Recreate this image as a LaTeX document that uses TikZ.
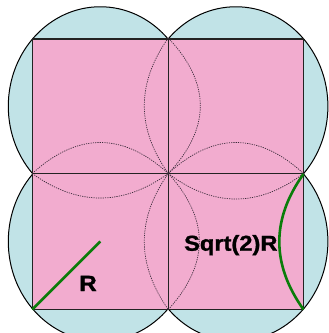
\documentclass[tikz,border=0pt]{standalone}
\usepackage{fontspec}
\setmainfont{Liberation Sans}
\newfontfamily\lblfont{Liberation Sans Bold}[FakeBold=1.3]
\definecolor{cpink}{RGB}{242,172,207}
\definecolor{cblue}{RGB}{193,227,231}
\definecolor{cedge}{RGB}{35,35,35}
\definecolor{cdot}{RGB}{60,45,60}
\definecolor{cgreen}{RGB}{10,125,10}
\begin{document}
\begin{tikzpicture}[x=1pt,y=-1pt,
  disc/.style={fill=cblue,draw=black,line width=1pt},
  sq/.style={fill=cpink,draw=cedge,line width=1.4pt},
  hid/.style={draw=cdot,line width=0.7pt,dash pattern=on 1.2pt off 1.1pt},
  grn/.style={draw=cgreen,line width=2.6pt},
  lbl/.style={font=\lblfont\fontsize{22}{22}\selectfont,xscale=1.1,inner sep=0pt,anchor=base}]
\useasboundingbox (0,0) rectangle (329,333);
\clip (0,0) rectangle (329,333);
% circumscribed circles
\foreach \cx/\cy in {100.3/106.25, 235.9/106.25, 100.3/241.5, 235.9/241.5}
  \path[disc] (\cx,\cy) ellipse [x radius=92, y radius=99.5];
% squares
\path[sq] (32.3,39) rectangle (168.3,173.5);
\path[sq] (168.3,39) rectangle (303.5,173.5);
\path[sq] (32.3,173.5) rectangle (168.3,309.5);
\path[sq] (168.3,173.5) rectangle (303.5,309.5);
% corner coordinates
\coordinate (tm) at (168.3,38);
\coordinate (cc) at (168.3,173.5);
\coordinate (lm) at (32.3,173.5);
\coordinate (rm) at (303.5,173.5);
\coordinate (bm) at (168.3,309.5);
\coordinate (bl) at (32.3,309.5);
\coordinate (c3) at (100.3,241.5);
\coordinate (ga) at (303.5,174);
\coordinate (gb) at (303.5,309.5);
% hidden circle outlines
\draw[hid] (tm) .. controls (136.3,83.17) and (136.3,128.33) .. (cc);
\draw[hid] (tm) .. controls (210.97,83.17) and (210.97,128.33) .. (cc);
\draw[hid] (cc) .. controls (136.3,218.83) and (136.3,264.17) .. (bm);
\draw[hid] (cc) .. controls (209.63,218.83) and (209.63,264.17) .. (bm);
\draw[hid] (lm) .. controls (77.63,132.17) and (122.97,132.17) .. (cc);
\draw[hid] (lm) .. controls (77.63,206.17) and (122.97,206.17) .. (cc);
\draw[hid] (cc) .. controls (213.37,132.17) and (258.43,132.17) .. (rm);
\draw[hid] (cc) .. controls (213.37,207.5) and (258.43,207.5) .. (rm);
% green radius and arc
\draw[grn] (bl) -- (c3);
\draw[grn] (ga) .. controls (271.23,219.17) and (271.23,264.33) .. (gb);
% labels
\node[lbl] (lr) at (88,291) {R};
\node[lbl,font=\lblfont\fontsize{21.5}{21.5}\selectfont] (ls) at (230.8,250.7) {Sqrt(2)R};
\end{tikzpicture}
\end{document}
